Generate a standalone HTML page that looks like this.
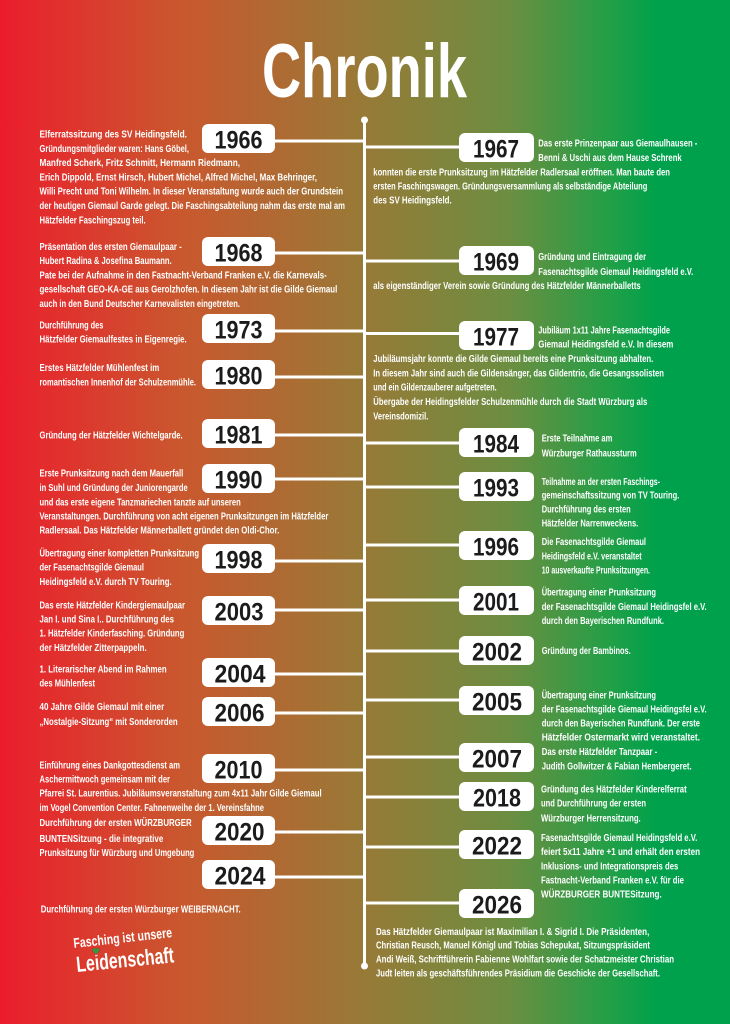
<!DOCTYPE html>
<html><head><meta charset="utf-8"><style>
html,body{margin:0;padding:0;width:730px;height:1024px;overflow:hidden;background:#967a37}
svg{display:block}
.t{font-family:"Liberation Sans Narrow","Liberation Sans",sans-serif;font-weight:bold;font-size:10.2px;fill:#fff}
.y{font-family:"Liberation Sans Narrow","Liberation Sans",sans-serif;font-weight:bold;font-size:25px;fill:#1b1b1b}
</style></head><body>
<svg width="730" height="1024" viewBox="0 0 730 1024" xmlns="http://www.w3.org/2000/svg">
<defs>
<linearGradient id="bg" x1="0" y1="0" x2="1" y2="0">
<stop offset="0" stop-color="#ec1b2d"/>
<stop offset="0.05" stop-color="#e5292d"/>
<stop offset="0.25" stop-color="#c9582e"/>
<stop offset="0.5" stop-color="#977a37"/>
<stop offset="0.7" stop-color="#6b8e41"/>
<stop offset="0.84" stop-color="#1fa047"/>
<stop offset="0.9" stop-color="#00a14c"/>
<stop offset="1" stop-color="#00a14d"/>
</linearGradient>
</defs>
<rect x="0" y="0" width="730" height="1024" fill="url(#bg)"/>

<!-- Title -->
<text x="262" y="97" font-family="'Liberation Sans Narrow','Liberation Sans',sans-serif" font-weight="bold" font-size="76" fill="#fff" textLength="205" lengthAdjust="spacingAndGlyphs">Chronik</text>

<!-- Timeline -->
<g fill="#fff" stroke="none">
<rect x="363" y="120" width="3" height="846"/>
<circle cx="364.5" cy="120" r="3.5"/>
<circle cx="364.5" cy="966" r="3.5"/>
<rect x="274" y="139.5" width="91" height="3"/>
<rect x="274" y="251.5" width="91" height="3"/>
<rect x="274" y="329.5" width="91" height="3"/>
<rect x="274" y="375.5" width="91" height="3"/>
<rect x="274" y="433.5" width="91" height="3"/>
<rect x="274" y="477.5" width="91" height="3"/>
<rect x="274" y="559.5" width="91" height="3"/>
<rect x="274" y="608.5" width="91" height="3"/>
<rect x="274" y="672.5" width="91" height="3"/>
<rect x="274" y="711.5" width="91" height="3"/>
<rect x="274" y="768.5" width="91" height="3"/>
<rect x="274" y="830.5" width="91" height="3"/>
<rect x="274" y="875.5" width="91" height="3"/>
<rect x="364" y="145.5" width="96" height="3"/>
<rect x="364" y="259.5" width="96" height="3"/>
<rect x="364" y="332" width="96" height="3"/>
<rect x="364" y="441.5" width="96" height="3"/>
<rect x="364" y="485.5" width="96" height="3"/>
<rect x="364" y="543.5" width="96" height="3"/>
<rect x="364" y="598.5" width="96" height="3"/>
<rect x="364" y="649.5" width="96" height="3"/>
<rect x="364" y="698.5" width="96" height="3"/>
<rect x="364" y="755.5" width="96" height="3"/>
<rect x="364" y="795.5" width="96" height="3"/>
<rect x="364" y="845.5" width="96" height="3"/>
<rect x="364" y="901.5" width="96" height="3"/>
<rect x="202" y="124" width="73" height="29" rx="6"/>
<rect x="202" y="237" width="73" height="29" rx="6"/>
<rect x="202" y="314" width="73" height="29" rx="6"/>
<rect x="202" y="360" width="73" height="29" rx="6"/>
<rect x="202" y="419" width="73" height="29" rx="6"/>
<rect x="202" y="464" width="73" height="29" rx="6"/>
<rect x="202" y="544" width="73" height="29" rx="6"/>
<rect x="202" y="596" width="73" height="29" rx="6"/>
<rect x="202" y="658" width="73" height="29" rx="6"/>
<rect x="202" y="697" width="73" height="29" rx="6"/>
<rect x="202" y="754" width="73" height="29" rx="6"/>
<rect x="202" y="816" width="73" height="29" rx="6"/>
<rect x="202" y="860" width="73" height="29" rx="6"/>
<rect x="459" y="133" width="75" height="29" rx="6"/>
<rect x="459" y="246" width="75" height="29" rx="6"/>
<rect x="459" y="321" width="75" height="29" rx="6"/>
<rect x="459" y="428" width="75" height="29" rx="6"/>
<rect x="459" y="472" width="75" height="29" rx="6"/>
<rect x="459" y="531" width="75" height="29" rx="6"/>
<rect x="459" y="586" width="75" height="29" rx="6"/>
<rect x="459" y="636" width="75" height="29" rx="6"/>
<rect x="459" y="686" width="75" height="29" rx="6"/>
<rect x="459" y="743" width="75" height="29" rx="6"/>
<rect x="459" y="782" width="75" height="29" rx="6"/>
<rect x="459" y="830" width="75" height="29" rx="6"/>
<rect x="459" y="889" width="75" height="29" rx="6"/>
</g>

<!-- Years -->
<g class="y">
<text x="214.5" y="148.5" textLength="48" lengthAdjust="spacingAndGlyphs">1966</text>
<text x="214.5" y="261.5" textLength="48" lengthAdjust="spacingAndGlyphs">1968</text>
<text x="214.5" y="338.5" textLength="48" lengthAdjust="spacingAndGlyphs">1973</text>
<text x="214.5" y="384.5" textLength="48" lengthAdjust="spacingAndGlyphs">1980</text>
<text x="214.5" y="443.5" textLength="48" lengthAdjust="spacingAndGlyphs">1981</text>
<text x="214.5" y="488.5" textLength="48" lengthAdjust="spacingAndGlyphs">1990</text>
<text x="214.5" y="568.5" textLength="48" lengthAdjust="spacingAndGlyphs">1998</text>
<text x="214.5" y="620.5" textLength="49" lengthAdjust="spacingAndGlyphs">2003</text>
<text x="214.5" y="682.5" textLength="51" lengthAdjust="spacingAndGlyphs">2004</text>
<text x="214.5" y="721.5" textLength="50" lengthAdjust="spacingAndGlyphs">2006</text>
<text x="214.5" y="778.5" textLength="48" lengthAdjust="spacingAndGlyphs">2010</text>
<text x="214.5" y="840.5" textLength="50" lengthAdjust="spacingAndGlyphs">2020</text>
<text x="214.5" y="884.5" textLength="51" lengthAdjust="spacingAndGlyphs">2024</text>

<text x="473" y="157.5" textLength="46" lengthAdjust="spacingAndGlyphs">1967</text>
<text x="473" y="270.5" textLength="46" lengthAdjust="spacingAndGlyphs">1969</text>
<text x="473" y="345.5" textLength="46" lengthAdjust="spacingAndGlyphs">1977</text>
<text x="473" y="452.5" textLength="46" lengthAdjust="spacingAndGlyphs">1984</text>
<text x="473" y="496.5" textLength="46" lengthAdjust="spacingAndGlyphs">1993</text>
<text x="473" y="555.5" textLength="46" lengthAdjust="spacingAndGlyphs">1996</text>
<text x="473" y="610.5" textLength="46" lengthAdjust="spacingAndGlyphs">2001</text>
<text x="472" y="660.5" textLength="50" lengthAdjust="spacingAndGlyphs">2002</text>
<text x="472" y="710.5" textLength="50" lengthAdjust="spacingAndGlyphs">2005</text>
<text x="472" y="767.5" textLength="50" lengthAdjust="spacingAndGlyphs">2007</text>
<text x="473" y="806.5" textLength="48" lengthAdjust="spacingAndGlyphs">2018</text>
<text x="472" y="854.5" textLength="50" lengthAdjust="spacingAndGlyphs">2022</text>
<text x="472" y="913.5" textLength="50" lengthAdjust="spacingAndGlyphs">2026</text>
</g>

<!-- Left texts -->
<g class="t">
<text x="39.5" y="137.5" textLength="147.5" lengthAdjust="spacingAndGlyphs">Elferratssitzung des SV Heidingsfeld.</text>
<text x="39.5" y="151.8" textLength="149.5" lengthAdjust="spacingAndGlyphs">Gründungsmitglieder waren: Hans Göbel,</text>
<text x="39.5" y="166.1" textLength="200.5" lengthAdjust="spacingAndGlyphs">Manfred Scherk, Fritz Schmitt, Hermann Riedmann,</text>
<text x="39.5" y="180.4" textLength="277.5" lengthAdjust="spacingAndGlyphs">Erich Dippold, Ernst Hirsch, Hubert Michel, Alfred Michel, Max Behringer,</text>
<text x="39.5" y="194.7" textLength="303.5" lengthAdjust="spacingAndGlyphs">Willi Precht und Toni Wilhelm. In dieser Veranstaltung wurde auch der Grundstein</text>
<text x="39.5" y="209" textLength="305.5" lengthAdjust="spacingAndGlyphs">der heutigen Giemaul Garde gelegt. Die Faschingsabteilung nahm das erste mal am</text>
<text x="39.5" y="223.3" textLength="106.2" lengthAdjust="spacingAndGlyphs">Hätzfelder Faschingszug teil.</text>

<text x="39.5" y="250" textLength="142.2" lengthAdjust="spacingAndGlyphs">Präsentation des ersten Giemaulpaar -</text>
<text x="39.5" y="264.2" textLength="132.2" lengthAdjust="spacingAndGlyphs">Hubert Radina &amp; Josefina Baumann.</text>
<text x="39.5" y="278.5" textLength="287.2" lengthAdjust="spacingAndGlyphs">Pate bei der Aufnahme in den Fastnacht-Verband Franken e.V. die Karnevals-</text>
<text x="39.5" y="292.7" textLength="297.8" lengthAdjust="spacingAndGlyphs">gesellschaft GEO-KA-GE aus Gerolzhofen. In diesem Jahr ist die Gilde Giemaul</text>
<text x="39.5" y="307" textLength="200.5" lengthAdjust="spacingAndGlyphs">auch in den Bund Deutscher Karnevalisten eingetreten.</text>

<text x="39.5" y="328.3" textLength="63.8" lengthAdjust="spacingAndGlyphs">Durchführung des</text>
<text x="39.5" y="342.6" textLength="147.2" lengthAdjust="spacingAndGlyphs">Hätzfelder Giemaulfestes in Eigenregie.</text>

<text x="39.5" y="371" textLength="119.8" lengthAdjust="spacingAndGlyphs">Erstes Hätzfelder Mühlenfest im</text>
<text x="39.5" y="385.3" textLength="156.5" lengthAdjust="spacingAndGlyphs">romantischen Innenhof der Schulzenmühle.</text>

<text x="39.5" y="438.3" textLength="143.2" lengthAdjust="spacingAndGlyphs">Gründung der Hätzfelder Wichtelgarde.</text>

<text x="39.5" y="476.6" textLength="143.8" lengthAdjust="spacingAndGlyphs">Erste Prunksitzung nach dem Mauerfall</text>
<text x="39.5" y="491" textLength="148.2" lengthAdjust="spacingAndGlyphs">in Suhl und Gründung der Juniorengarde</text>
<text x="39.5" y="505.3" textLength="201.2" lengthAdjust="spacingAndGlyphs">und das erste eigene Tanzmariechen tanzte auf unseren</text>
<text x="39.5" y="519.3" textLength="288.8" lengthAdjust="spacingAndGlyphs">Veranstaltungen. Durchführung von acht eigenen Prunksitzungen im Hätzfelder</text>
<text x="39.5" y="533.3" textLength="239.8" lengthAdjust="spacingAndGlyphs">Radlersaal. Das Hätzfelder Männerballett gründet den Oldi-Chor.</text>

<text x="39.5" y="556.6" textLength="159.5" lengthAdjust="spacingAndGlyphs">Übertragung einer kompletten Prunksitzung</text>
<text x="39.5" y="570.6" textLength="104.5" lengthAdjust="spacingAndGlyphs">der Fasenachtsgilde Giemaul</text>
<text x="39.5" y="585" textLength="132.2" lengthAdjust="spacingAndGlyphs">Heidingsfeld e.V. durch TV Touring.</text>

<text x="39.5" y="608.3" textLength="145.5" lengthAdjust="spacingAndGlyphs">Das erste Hätzfelder Kindergiemaulpaar</text>
<text x="39.5" y="622.6" textLength="134.5" lengthAdjust="spacingAndGlyphs">Jan I. und Sina I.. Durchführung des</text>
<text x="39.5" y="636.6" textLength="144.8" lengthAdjust="spacingAndGlyphs">1. Hätzfelder Kinderfasching. Gründung</text>
<text x="39.5" y="651" textLength="107.2" lengthAdjust="spacingAndGlyphs">der Hätzfelder Zitterpappeln.</text>

<text x="39.5" y="672.6" textLength="127.2" lengthAdjust="spacingAndGlyphs">1. Literarischer Abend  im Rahmen</text>
<text x="39.5" y="686.6" textLength="55.5" lengthAdjust="spacingAndGlyphs">des Mühlenfest</text>

<text x="39.5" y="710" textLength="124.8" lengthAdjust="spacingAndGlyphs">40 Jahre Gilde Giemaul mit einer</text>
<text x="39.5" y="725" textLength="138.2" lengthAdjust="spacingAndGlyphs">„Nostalgie-Sitzung“ mit Sonderorden</text>

<text x="39.5" y="768.3" textLength="140.5" lengthAdjust="spacingAndGlyphs">Einführung eines Dankgottesdienst am</text>
<text x="39.5" y="782.6" textLength="130.5" lengthAdjust="spacingAndGlyphs">Aschermittwoch gemeinsam mit der</text>
<text x="39.5" y="796.6" textLength="282.2" lengthAdjust="spacingAndGlyphs">Pfarrei St. Laurentius. Jubiläumsveranstaltung zum 4x11 Jahr Gilde Giemaul</text>
<text x="39.5" y="811" textLength="224.5" lengthAdjust="spacingAndGlyphs">im Vogel Convention Center. Fahnenweihe der 1. Vereinsfahne</text>

<text x="39.5" y="826" textLength="152.2" lengthAdjust="spacingAndGlyphs">Durchführung der ersten WÜRZBURGER</text>
<text x="39.5" y="842" textLength="123.8" lengthAdjust="spacingAndGlyphs">BUNTENSitzung - die integrative</text>
<text x="39.5" y="856" textLength="154.8" lengthAdjust="spacingAndGlyphs">Prunksitzung für Würzburg und Umgebung</text>

<text x="40.7" y="912.3" textLength="200" lengthAdjust="spacingAndGlyphs">Durchführung der ersten Würzburger WEIBERNACHT.</text>
</g>

<!-- Right texts -->
<g class="t">
<text x="538.3" y="146.6" textLength="159" lengthAdjust="spacingAndGlyphs">Das erste Prinzenpaar aus Giemaulhausen -</text>
<text x="538.3" y="161" textLength="143.4" lengthAdjust="spacingAndGlyphs">Benni &amp; Uschi aus dem Hause Schrenk</text>
<text x="373.3" y="175.6" textLength="296.7" lengthAdjust="spacingAndGlyphs">konnten die erste Prunksitzung im Hätzfelder Radlersaal eröffnen. Man baute den</text>
<text x="373.3" y="189.3" textLength="274" lengthAdjust="spacingAndGlyphs">ersten Faschingswagen. Gründungsversammlung als selbständige Abteilung</text>
<text x="373.3" y="203.3" textLength="78.4" lengthAdjust="spacingAndGlyphs">des SV Heidingsfeld.</text>

<text x="538.3" y="260" textLength="107.7" lengthAdjust="spacingAndGlyphs">Gründung und Eintragung der</text>
<text x="538.3" y="275" textLength="155" lengthAdjust="spacingAndGlyphs">Fasenachtsgilde Giemaul Heidingsfeld e.V.</text>
<text x="373.3" y="289" textLength="267.4" lengthAdjust="spacingAndGlyphs">als eigenständiger Verein sowie Gründung des Hätzfelder Männerballetts</text>

<text x="538.3" y="333.3" textLength="131.7" lengthAdjust="spacingAndGlyphs">Jubiläum 1x11 Jahre Fasenachtsgilde</text>
<text x="538.3" y="347.3" textLength="135" lengthAdjust="spacingAndGlyphs">Giemaul Heidingsfeld e.V. In diesem</text>
<text x="373.3" y="362" textLength="280" lengthAdjust="spacingAndGlyphs">Jubiläumsjahr konnte die Gilde Giemaul bereits eine Prunksitzung abhalten.</text>
<text x="373.3" y="376.3" textLength="290.7" lengthAdjust="spacingAndGlyphs">In diesem Jahr sind auch die Gildensänger, das Gildentrio, die Gesangssolisten</text>
<text x="373.3" y="390.6" textLength="123.4" lengthAdjust="spacingAndGlyphs">und ein Gildenzauberer aufgetreten.</text>
<text x="373.3" y="405" textLength="274" lengthAdjust="spacingAndGlyphs">Übergabe der Heidingsfelder Schulzenmühle durch die Stadt Würzburg als</text>
<text x="373.3" y="419.3" textLength="55" lengthAdjust="spacingAndGlyphs">Vereinsdomizil.</text>

<text x="541.7" y="441.6" textLength="70.6" lengthAdjust="spacingAndGlyphs">Erste Teilnahme am</text>
<text x="541.7" y="456.6" textLength="95" lengthAdjust="spacingAndGlyphs">Würzburger Rathaussturm</text>

<text x="541.7" y="485" textLength="118.3" lengthAdjust="spacingAndGlyphs">Teilnahme an der ersten Faschings-</text>
<text x="541.7" y="498.3" textLength="137.6" lengthAdjust="spacingAndGlyphs">gemeinschaftssitzung von TV Touring.</text>
<text x="541.7" y="512.6" textLength="89" lengthAdjust="spacingAndGlyphs">Durchführung des ersten</text>
<text x="541.7" y="526.6" textLength="96.6" lengthAdjust="spacingAndGlyphs">Hätzfelder Narrenweckens.</text>

<text x="541.7" y="545" textLength="104.3" lengthAdjust="spacingAndGlyphs">Die Fasenachtsgilde Giemaul</text>
<text x="541.7" y="559.3" textLength="100" lengthAdjust="spacingAndGlyphs">Heidingsfeld e.V. veranstaltet</text>
<text x="541.7" y="573.3" textLength="108.3" lengthAdjust="spacingAndGlyphs">10 ausverkaufte Prunksitzungen.</text>

<text x="541.7" y="595.6" textLength="114.3" lengthAdjust="spacingAndGlyphs">Übertragung einer Prunksitzung</text>
<text x="541.7" y="610" textLength="165" lengthAdjust="spacingAndGlyphs">der Fasenachtsgilde Giemaul Heidingsfel e.V.</text>
<text x="541.7" y="624" textLength="122.3" lengthAdjust="spacingAndGlyphs">durch den Bayerischen Rundfunk.</text>

<text x="541.7" y="654" textLength="89" lengthAdjust="spacingAndGlyphs">Gründung der Bambinos.</text>

<text x="541.7" y="698.3" textLength="114.3" lengthAdjust="spacingAndGlyphs">Übertragung einer Prunksitzung</text>
<text x="541.7" y="712.6" textLength="165" lengthAdjust="spacingAndGlyphs">der Fasenachtsgilde Giemaul Heidingsfel e.V.</text>
<text x="541.7" y="726.6" textLength="158.3" lengthAdjust="spacingAndGlyphs">durch den Bayerischen Rundfunk. Der erste</text>
<text x="541.7" y="740.6" textLength="158.3" lengthAdjust="spacingAndGlyphs">Hätzfelder Ostermarkt wird veranstaltet.</text>

<text x="541.7" y="755" textLength="115.6" lengthAdjust="spacingAndGlyphs">Das erste Hätzfelder Tanzpaar -</text>
<text x="541.7" y="769.6" textLength="150" lengthAdjust="spacingAndGlyphs">Judith Gollwitzer &amp; Fabian Hembergeret.</text>

<text x="541" y="792.6" textLength="145.7" lengthAdjust="spacingAndGlyphs">Gründung des Hätzfelder Kinderelferrat</text>
<text x="541" y="806.6" textLength="105" lengthAdjust="spacingAndGlyphs">und Durchführung der ersten</text>
<text x="541" y="821.6" textLength="99.7" lengthAdjust="spacingAndGlyphs">Würzburger Herrensitzung.</text>

<text x="541" y="841" textLength="156.3" lengthAdjust="spacingAndGlyphs">Fasenachtsgilde Giemaul Heidingsfeld e.V.</text>
<text x="541" y="855" textLength="159" lengthAdjust="spacingAndGlyphs">feiert 5x11 Jahre  +1 und erhält den ersten</text>
<text x="541" y="869.3" textLength="137.3" lengthAdjust="spacingAndGlyphs">Inklusions- und Integrationspreis des</text>
<text x="541" y="883.3" textLength="143" lengthAdjust="spacingAndGlyphs">Fastnacht-Verband Franken e.V. für die</text>
<text x="541" y="897.6" textLength="120.7" lengthAdjust="spacingAndGlyphs">WÜRZBURGER BUNTESitzung.</text>

<text x="376" y="935" textLength="273.3" lengthAdjust="spacingAndGlyphs">Das Hätzfelder Giemaulpaar ist Maximilian I. &amp; Sigrid I. Die Präsidenten,</text>
<text x="376" y="948.3" textLength="274" lengthAdjust="spacingAndGlyphs">Christian Reusch, Manuel Königl und Tobias Schepukat, Sitzungspräsident</text>
<text x="376" y="962.6" textLength="298" lengthAdjust="spacingAndGlyphs">Andi Weiß, Schriftführerin Fabienne Wohlfart sowie der Schatzmeister Christian</text>
<text x="376" y="976.6" textLength="284" lengthAdjust="spacingAndGlyphs">Judt leiten als geschäftsführendes Präsidium die Geschicke der Gesellschaft.</text>
</g>

<!-- Logo -->
<g fill="#fff" font-family="'Liberation Sans Narrow','Liberation Sans',sans-serif" font-weight="bold">
<text transform="translate(74,948) rotate(-6.3)" font-size="14" textLength="99" lengthAdjust="spacingAndGlyphs">Fasching ist unsere</text>
<text transform="translate(77,972) rotate(-5.7)" font-size="22" textLength="98" lengthAdjust="spacingAndGlyphs">Leidenschaft</text>
</g>
<path d="M96 955 C93 952 91 950 92.5 948.3 C93.8 947 95.3 947.6 96 948.8 C96.7 947.6 98.2 947 99.5 948.3 C101 950 99 952 96 955 Z" fill="#2f9a3c" stroke="#e0262d" stroke-width="0.8"/>
</svg>
</body></html>
